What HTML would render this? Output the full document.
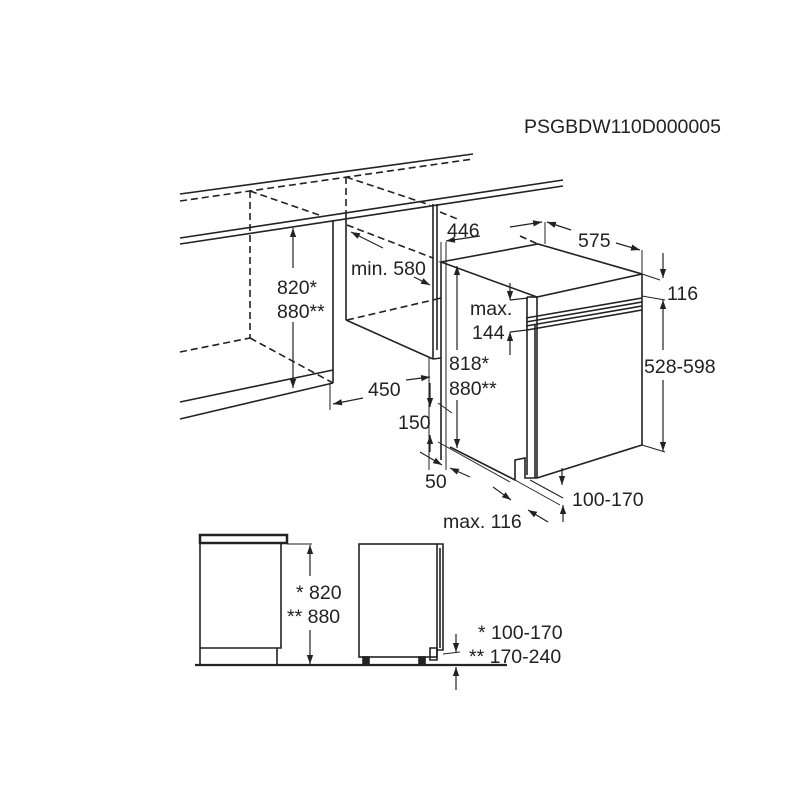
<!DOCTYPE html>
<html><head><style>body{margin:0;background:#fff}svg{display:block}text{font-family:"Liberation Sans",sans-serif;font-size:19.5px;fill:#222}</style></head><body>
<svg width="800" height="800" viewBox="0 0 800 800" xmlns="http://www.w3.org/2000/svg">
<defs><marker id="a" viewBox="0 0 10 10" refX="10" refY="5" markerWidth="9" markerHeight="9" orient="auto-start-reverse" markerUnits="userSpaceOnUse"><path d="M0,1.5 L10,5 L0,8.5z" fill="#222"/></marker></defs>
<g stroke="#222" stroke-width="1.6" fill="none">
<line x1="180" y1="194" x2="473" y2="154"/>
<line x1="180" y1="201" x2="473" y2="159" stroke-dasharray="7,4"/>
<line x1="180" y1="238" x2="563" y2="180"/>
<line x1="180" y1="244" x2="563" y2="186"/>
<line x1="180" y1="402" x2="333" y2="370"/>
<line x1="180" y1="419" x2="333" y2="383"/>
<g stroke-dasharray="7,4">
<line x1="250" y1="191" x2="250" y2="338"/>
<line x1="250" y1="191" x2="322" y2="216"/>
<line x1="180" y1="352" x2="250" y2="338"/>
<line x1="250" y1="338" x2="333" y2="383"/>
<line x1="346" y1="177" x2="346" y2="212"/>
<line x1="346" y1="177" x2="430" y2="205"/>
<line x1="347" y1="225" x2="433" y2="258"/>
<line x1="347" y1="320" x2="433" y2="300"/>
<line x1="440" y1="212" x2="460" y2="220"/>
<line x1="520" y1="236" x2="540" y2="245"/>
</g>
<line x1="333" y1="220" x2="333" y2="383"/>
<line x1="330" y1="383" x2="330" y2="410" stroke-width="1"/>
<line x1="346" y1="212" x2="346" y2="320"/>
<line x1="346" y1="320" x2="433" y2="359"/>
<line x1="433" y1="204" x2="433" y2="359"/>
<line x1="437" y1="204" x2="437" y2="350"/>
<line x1="433" y1="359" x2="441" y2="358"/>
<line x1="433" y1="300" x2="441" y2="298"/>
<line x1="429" y1="358" x2="429" y2="470" stroke-width="1"/>
<path d="M441 262 L538 244 L642 274 L537 297 Z"/>
<line x1="441" y1="262" x2="441" y2="460"/>
<line x1="446" y1="242" x2="446" y2="470" stroke-width="1"/>
<line x1="537" y1="297" x2="537" y2="478"/>
<line x1="642" y1="274" x2="642" y2="445"/>
<path d="M527 297 L527 475" />
<line x1="527" y1="297" x2="537" y2="297"/>
<path d="M526 318 L642 298 M526 322 L642 302 M526 326 L642 306 M527 330 L642 310"/>
<line x1="537" y1="478" x2="642" y2="445"/>
<line x1="535" y1="325" x2="535" y2="478"/>
<path d="M450 447 L515 480 L515 460 L525 458 L525 478 L537 478"/>
<line x1="515" y1="480" x2="560" y2="505" stroke-width="1"/>
<line x1="530" y1="480" x2="563" y2="498" stroke-width="1"/>
<line x1="438" y1="403" x2="452" y2="413" stroke-width="1"/>
<line x1="438" y1="442" x2="510" y2="482" stroke-width="1"/>
<line x1="642" y1="274" x2="660" y2="280" stroke-width="1"/>
<line x1="642" y1="296" x2="665" y2="300" stroke-width="1"/>
<line x1="642" y1="445" x2="665" y2="452" stroke-width="1"/>
<line x1="642" y1="274" x2="642" y2="250" stroke-width="1"/>
<line x1="545" y1="222" x2="545" y2="244" stroke-width="1"/>
<line x1="441" y1="242" x2="441" y2="262" stroke-width="1"/>
<g stroke-width="1.2">
<line x1="293" y1="268" x2="293" y2="228" marker-end="url(#a)"/>
<line x1="293" y1="322" x2="293" y2="388" marker-end="url(#a)"/>
<line x1="383" y1="248" x2="351" y2="232" marker-end="url(#a)"/>
<line x1="414" y1="277" x2="430" y2="285" marker-end="url(#a)"/>
<line x1="363" y1="398" x2="333" y2="404" marker-end="url(#a)"/>
<line x1="406" y1="380" x2="430" y2="377" marker-end="url(#a)"/>
<line x1="430" y1="383" x2="430" y2="407" marker-end="url(#a)"/>
<line x1="430" y1="452" x2="430" y2="435" marker-end="url(#a)"/>
<line x1="420" y1="452" x2="442" y2="465" marker-end="url(#a)"/>
<line x1="470" y1="477" x2="450" y2="468" marker-end="url(#a)"/>
<line x1="457" y1="350" x2="457" y2="266" marker-end="url(#a)"/>
<line x1="457" y1="400" x2="457" y2="448" marker-end="url(#a)"/>
<line x1="480" y1="236" x2="446" y2="241" marker-end="url(#a)"/>
<line x1="510" y1="227" x2="542" y2="222" marker-end="url(#a)"/>
<line x1="571" y1="230" x2="547" y2="222" marker-end="url(#a)"/>
<line x1="616" y1="243" x2="640" y2="250" marker-end="url(#a)"/>
<line x1="663" y1="253" x2="663" y2="278" marker-end="url(#a)"/>
<line x1="510" y1="283" x2="510" y2="300" marker-end="url(#a)"/>
<line x1="510" y1="355" x2="510" y2="332" marker-end="url(#a)"/>
<line x1="663" y1="350" x2="663" y2="300" marker-end="url(#a)"/>
<line x1="663" y1="380" x2="663" y2="451" marker-end="url(#a)"/>
<line x1="562" y1="468" x2="562" y2="485" marker-end="url(#a)"/>
<line x1="493" y1="487" x2="511" y2="500" marker-end="url(#a)"/>
<line x1="563" y1="522" x2="563" y2="505" marker-end="url(#a)"/>
<line x1="548" y1="522" x2="528" y2="510" marker-end="url(#a)"/>
<line x1="510" y1="300" x2="528" y2="298"/>
<line x1="510" y1="332" x2="527" y2="330"/>
</g>
<rect x="200" y="535" width="87" height="8" stroke-width="2.5"/>
<path d="M200 543 L200 665 M281 543 L281 648 L200 648 M277 648 L277 665"/>
<line x1="195" y1="665" x2="507" y2="665" stroke-width="2.2"/>
<line x1="287" y1="544" x2="312" y2="544" stroke-width="1"/>
<line x1="310" y1="576" x2="310" y2="545" stroke-width="1.2" marker-end="url(#a)"/>
<line x1="310" y1="630" x2="310" y2="664" stroke-width="1.2" marker-end="url(#a)"/>
<rect x="359" y="544" width="78" height="113"/>
<path d="M437 544 L443 544 L443 650 L437 650 M440 548 L440 648"/>
<path d="M430 648 L437 648 L437 660 L430 660 Z"/>
<rect x="363" y="657" width="6" height="8" fill="#222"/>
<rect x="419" y="657" width="6" height="8" fill="#222"/>
<line x1="443" y1="654" x2="460" y2="652" stroke-width="1"/>
<line x1="456" y1="634" x2="456" y2="652" stroke-width="1.2" marker-end="url(#a)"/>
<line x1="456" y1="690" x2="456" y2="667" stroke-width="1.2" marker-end="url(#a)"/>
</g>
<text x="524" y="133">PSGBDW110D000005</text>
<text x="277" y="294">820*</text><text x="277" y="318">880**</text>
<text x="351" y="275">min. 580</text>
<text x="368" y="396">450</text>
<text x="398" y="429">150</text>
<text x="425" y="488">50</text>
<text x="447" y="237">446</text>
<text x="578" y="247">575</text>
<text x="667" y="300">116</text>
<text x="644" y="373">528-598</text>
<text x="470" y="315">max.</text><text x="472" y="339">144</text>
<text x="449" y="370">818*</text><text x="449" y="395">880**</text>
<text x="572" y="506">100-170</text>
<text x="443" y="528">max. 116</text>
<text x="296" y="599">* 820</text><text x="287" y="623">** 880</text>
<text x="478" y="639">* 100-170</text><text x="469" y="663">** 170-240</text>
</svg>
</body></html>
